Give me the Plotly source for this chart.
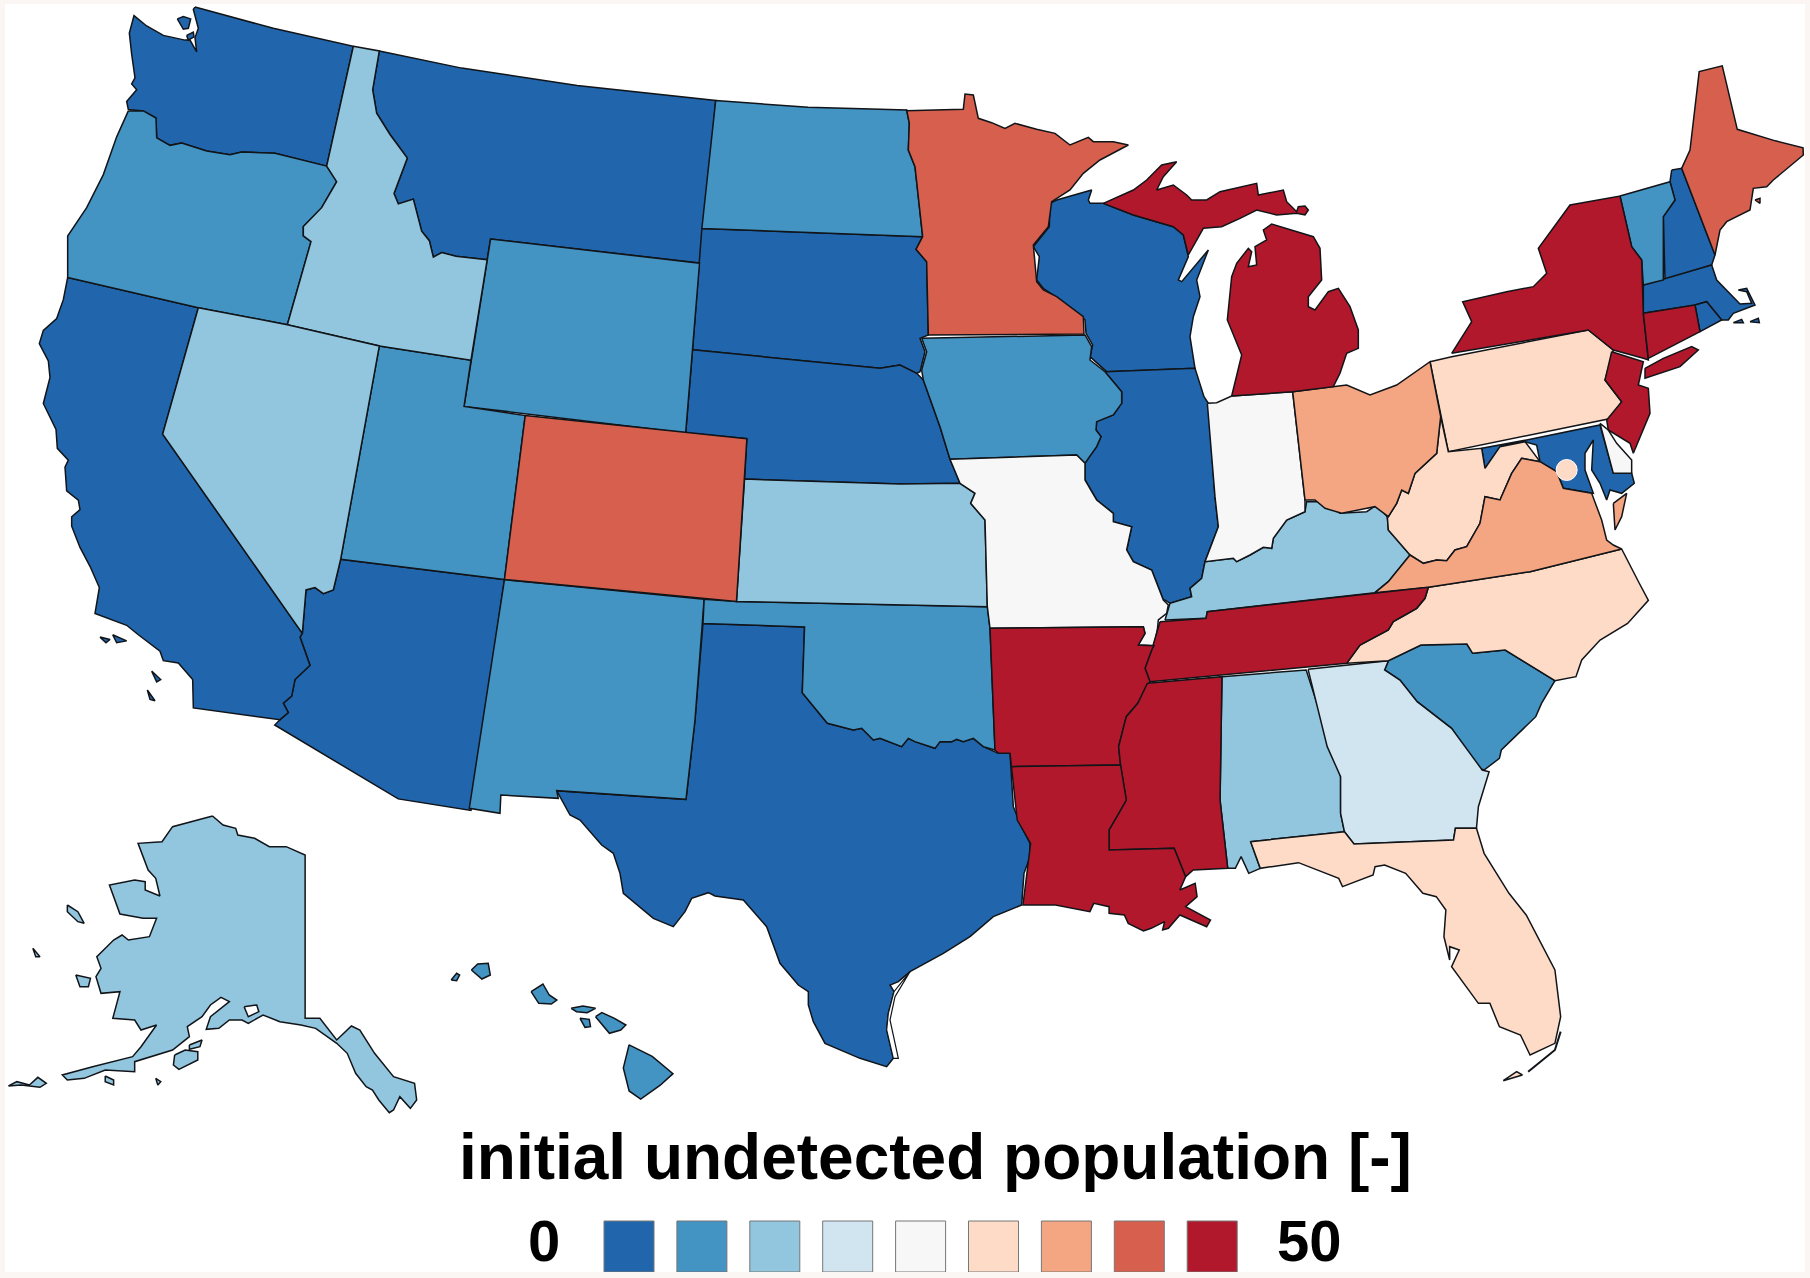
import plotly.graph_objects as go

# ---- values -----------------------------------------------------------------
LEGEND_TITLE = "initial undetected population [-]"
LEGEND_MIN, LEGEND_MAX = "0", "50"
BIN_COLOURS = ["#2166ac", "#4393c3", "#92c5de", "#d1e5f0", "#f7f7f7",
               "#fddbc7", "#f4a582", "#d6604d", "#b2182b"]
BINS = {
    0: ["WA", "MT", "SD", "NE", "TX", "AZ", "CA", "WI", "IL", "MD", "NH", "MA", "RI"],
    1: ["OR", "WY", "ND", "IA", "UT", "NM", "OK", "SC", "VT", "HI"],
    2: ["ID", "NV", "KS", "KY", "AL", "AK"],
    3: ["GA"],
    4: ["IN", "MO", "DE"],
    5: ["PA", "WV", "NC", "FL", "DC"],
    6: ["OH", "VA"],
    7: ["MN", "CO", "ME"],
    8: ["NY", "CT", "NJ", "MI", "TN", "AR", "MS", "LA"],
}

# ---- state outlines, traced (no base-map topology can be loaded offline) -----
def tr(x0, y0, sx, sy):
    return lambda *pts: [(x0 + a / sx, y0 + b / sy) for a, b in pts]

O = tr(0, 0, 1568 / 1810, 1107 / 1278)
W = tr(20, 0, 3, 2.119)
A = tr(0, 790, 2.376, 3)
G = tr(1000, 120, 3, 3)
S = tr(1000, 640, 2.613, 3)
T = tr(540, 720, 3, 3)
N = tr(1400, 150, 3, 3)
K = tr(1130, 500, 3, 3)
M = tr(880, 90, 3, 3)
I = tr(900, 330, 3, 3)

OUTLINES = {
 "WA": [W((525,15),(760,60),(1000,98),(920,352),(765,325),(665,322),(630,328),(560,320),(485,303),(450,308),(410,292),(408,250),(370,235),(325,232),(320,215),(350,190),(335,178),(345,165),(335,115),(328,70),(342,33),(380,55),(430,75),(495,85),(510,85),(530,110),(525,80),(535,60),(520,20)),
        W((472,40),(490,35),(512,40),(505,60),(490,62)), W((500,75),(520,68),(522,78),(505,85))],
 "OR": [W((325,235),(370,235),(408,250),(410,292),(450,308),(485,303),(560,320),(630,328),(665,322),(765,325),(920,352),(950,385),(905,440),(850,480),(850,500),(873,512),(802,688),(535,652),(143,588),(143,500),(200,440),(250,370),(290,290))],
 "ID": [W((1000,98),(1078,108),(1058,190),(1070,240),(1110,285),(1162,335),(1122,410),(1135,432),(1180,422),(1205,490),(1228,510),(1240,545),(1265,535))+O((395,222),(422,225),(408,312))+W((1078,733),(802,688),(873,512),(850,500),(850,480),(905,440),(950,385),(920,352))],
 "MT": [W((1078,108))+O((400,59),(500,74),(620,87),(608,228),(425,207),(422,225),(395,222))+W((1265,535),(1240,545),(1228,510),(1205,490),(1180,422),(1135,432),(1122,410),(1162,335),(1110,285),(1070,240),(1058,190))],
 "WY": [O((425,207),(606,228),(594,375),(402,352))],
 "ND": [O((620,87),(700,93))+M((80,60),(88,100),(85,180),(105,230),(128,440))+O((608,198))],
 "SD": [O((608,198))+M((128,440),(108,478),(140,515),(145,735),(120,745),(135,785),(120,845),(110,850),(60,825),(0,835))+O((600,303))],
 "NE": [O((600,303))+M((0,835),(60,825),(110,850))+I((70,150),(120,290),(150,388),(180,460),(0,462))+O((645,415),(647,380),(594,375))],
 "NV": [W((535,652),(802,688),(1078,733),(962,1185),(940,1250),(910,1258),(885,1245),(858,1250),(847,1342),(428,920))],
 "CA": [W((143,588),(535,652),(428,920),(847,1342),(840,1350),(870,1410),(825,1440),(815,1475),(790,1490),(805,1510),(780,1525),(520,1500),(518,1440),(475,1405),(430,1400),(420,1380),(355,1345),(320,1325),(225,1300),(238,1245),(210,1200),(180,1160),(155,1115),(155,1095),(180,1080),(175,1060),(140,1040),(135,990),(145,975),(112,950),(108,910),(70,855),(90,800),(85,765),(58,728),(70,700),(110,675),(130,635)),
        W((240,1350),(270,1355),(258,1362)), W((278,1345),(320,1358),(290,1362)), W((395,1422),(422,1440),(410,1445)), W((382,1462),(405,1485),(390,1482))],
 "UT": [W((1078,733))+O((408,312),(402,352),(455,360),(437,502))+W((962,1185))],
 "CO": [O((455,360),(647,380),(638,521),(437,502))],
 "AZ": [W((962,1185))+O((437,502),(408,702),(345,692),(238,628))+W((780,1525),(805,1510),(790,1490),(815,1475),(825,1440),(870,1410),(840,1350),(847,1342),(858,1250),(885,1245),(910,1258),(940,1250))],
 "NM": [O((437,502),(610,519))+T((465,0),(438,238),(50,212),(55,235))+A((1190,15),(1188,70),(1115,55))],
 "KS": [O((645,415))+I((0,462),(180,460),(225,490),(212,520),(255,570),(262,830))+O((638,521))],
 "OK": [O((610,519),(638,521))+I((262,830),(270,895))+T((1365,90),(1330,80),(1300,55),(1270,65),(1250,58),(1235,65),(1200,65),(1185,85),(1125,65),(1105,55),(1085,80),(1020,55),(1000,60),(965,25),(940,30),(862,10))+O((695,600),(697,543),(609,540))],
 "TX": [T((862,10),(940,30),(965,25),(1000,60),(1020,55),(1085,80),(1105,55),(1125,65),(1185,85),(1200,65),(1235,65),(1250,58),(1270,65),(1300,55),(1330,80),(1375,100),(1410,100),(1420,260),(1440,310),(1470,370),(1470,410),(1452,460),(1445,555),(1360,590),(1290,650),(1210,700),(1110,755),(1075,785),(1050,795),(1062,815),(1045,880),(1040,930),(1060,1015),(1040,1040),(960,1015),(855,970),(820,905),(805,855),(805,815),(775,795),(720,730),(680,620),(610,540),(525,528),(505,518),(455,535),(435,575),(400,620),(340,595),(250,520),(240,460),(220,400),(185,375),(120,300),(90,285),(50,212),(438,238),(465,0))+O((609,540),(697,543),(695,600))],
 "MN": [O((785,96))+M((250,58),(255,12),(280,15),(295,85),(335,98),(375,115),(405,100),(470,118),(525,130),(570,165),(625,142),(640,155),(700,155),(745,165),(660,210),(610,250),(570,300),(515,335),(505,410),(460,465),(470,575),(490,600),(530,620),(610,680),(612,732),(145,735),(140,515),(108,478),(128,440),(105,230),(85,180),(88,100),(80,60))],
 "IA": [I((65,25),(555,15),(575,50),(570,90),(615,125),(665,185),(665,220),(640,255),(590,275),(588,300),(603,320),(590,350),(565,385),(555,400),(530,375),(150,388),(120,290),(70,150),(65,120),(80,65))],
 "MO": [I((150,388),(530,375),(555,400),(555,450),(590,510),(640,550),(640,575),(695,590),(680,660),(700,695),(755,720),(790,810),(805,825),(800,850),(775,870),(772,900))+K((72,437),(25,435),(45,400),(40,380))+I((270,895),(262,830),(255,570),(212,520),(225,490),(180,460))],
 "AR": [I((270,895))+K((40,380),(45,400),(25,435),(72,437),(65,450),(45,505),(60,545))+S((360,190),(330,230),(310,320),(315,375),(30,380))+T((1410,100),(1375,100),(1365,90))],
 "LA": [S((30,380),(315,375),(330,480),(285,570),(285,630),(455,625),(485,710),(470,750),(510,730),(515,770),(485,800),(550,840),(540,860),(470,825),(440,865),(425,870),(430,845),(395,865),(375,873),(335,850),(325,825),(285,820),(285,800),(245,790),(235,815),(145,795),(60,795),(70,700),(80,610),(45,540))],
 "MS": [S((385,130),(580,110),(575,480),(595,685),(505,690),(485,710),(455,625),(285,630),(285,570),(330,480),(315,375),(310,320),(330,230),(360,190))],
 "AL": [S((580,110),(800,90),(890,410),(890,520),(900,575),(655,605),(680,685),(650,700),(630,650),(615,685),(595,685),(575,480))],
 "GA": [S((805,88),(1015,62),(1005,90),(1045,120),(1090,185),(1180,265),(1260,390),(1278,395),(1250,500),(1245,565),(1190,565),(1185,600),(925,612),(900,575),(890,520),(890,410),(855,320))],
 "SC": [S((1015,62),(1100,15),(1220,12),(1235,40),(1320,30),(1450,122),(1415,190),(1400,230),(1310,330),(1305,355),(1265,390),(1250,385),(1180,265),(1090,185),(1045,120),(1005,90))],
 "NC": [K((650,490),(690,435),(775,390),(790,365),(825,345),(860,325),(885,295),(895,262),(1200,215))+N((665,1197))+O((1420,505),(1428,520),(1410,540))+S((1568,0),(1520,60),(1505,110),(1450,122),(1320,30),(1235,40),(1220,12),(1100,15),(1015,62))],
 "FL": [S((655,605),(900,575),(925,612),(1185,600),(1190,565),(1245,565),(1265,640),(1330,760),(1375,825),(1450,990),(1465,1130),(1450,1210),(1385,1245),(1360,1185),(1305,1160),(1280,1090),(1250,1090),(1180,980),(1200,930),(1175,920),(1175,960),(1160,890),(1165,810),(1140,770),(1105,760),(1060,700),(1005,675),(980,680),(975,705),(895,740),(885,715),(780,668),(680,685)),
        S((1315,1322),(1350,1295),(1365,1305))],
 "TN": [K((90,365),(228,355),(232,335),(735,278),(895,262),(885,295),(860,325),(825,345),(790,365),(775,390),(690,435),(650,490),(60,545),(45,505),(65,450))],
 "KY": [K((105,360),(120,310),(185,290),(180,265),(215,235),(225,185),(310,175),(320,185),(360,165),(400,142),(425,145),(430,115),(470,60),(525,35),(530,5),(575,5),(630,40),(710,35),(740,15),(772,50),(775,90),(840,165),(775,245),(735,278),(232,335),(228,355))],
 "IL": [I((615,125),(885,115))+G((612,830),(625,850),(645,1130),(655,1220))+K((225,185),(215,235),(180,265),(185,290),(120,310),(105,300))+I((790,810),(755,720),(700,695),(680,660),(695,590),(640,575),(640,550),(590,510),(555,450),(555,400),(565,385),(590,350),(603,320),(588,300),(590,275),(640,255),(665,220),(665,185))],
 "IN": [G((622,850),(650,848),(695,828),(878,815),(915,1140))+K((525,35),(470,60),(430,115),(425,145),(400,142),(360,165),(320,185),(310,175),(225,185))+G((655,1220),(645,1130))],
 "OH": [G((878,815),(1000,800),(1040,795),(1110,825),(1190,795),(1290,725),(1322,890),(1310,1000),(1245,1060),(1225,1120),(1205,1110),(1190,1150),(1165,1190),(1125,1160),(1025,1180),(975,1165),(945,1140),(915,1140))],
 "WI": [G((150,250),(170,240),(275,210),(265,240),(270,250),(310,250),(400,285),(520,320),(550,345),(565,410),(535,480),(545,485),(625,390),(590,480),(600,530),(580,590),(570,650),(585,745),(320,755),(270,710),(278,675),(258,640),(255,600),(175,535),(130,505),(110,480),(118,410),(100,380),(148,320))],
 "MI": [G((310,250),(400,210),(440,180),(485,135),(530,125),(490,170),(470,210),(520,195),(560,225),(575,240),(620,240),(660,215),(770,190),(775,225),(850,210),(860,245),(890,275),(895,260),(915,258),(925,270),(915,285),(890,280),(830,285),(770,270),(720,295),(665,320),(610,325),(590,360),(565,405),(550,345),(520,320),(400,285)),
        G((695,828),(725,705),(682,600),(695,470),(710,430),(745,385),(755,395),(745,440),(770,435),(765,380),(800,360),(790,330),(815,312),(940,350),(960,385),(965,480),(925,530),(925,560),(945,570),(985,515),(1015,505),(1050,560),(1075,630),(1075,685),(1040,700),(1020,760),(1000,800),(878,815))],
 "WV": [N((122,800),(145,905),(245,895),(255,955),(300,890),(375,875),(420,935),(365,925),(335,970),(300,1050),(255,1040),(240,1120),(200,1190))+K((975,150),(950,182),(920,180),(880,190),(840,165),(775,90),(772,50))+G((1165,1190),(1190,1150),(1205,1110),(1225,1120),(1245,1060),(1310,1000))],
 "VA": [K((735,278),(775,245),(840,165),(880,190),(920,180),(950,182),(975,150))+N((200,1190),(240,1120),(255,1040),(300,1050),(335,970),(365,925),(420,935),(470,965),(490,1015),(575,1030),(605,1110),(620,1170),(640,1185),(665,1197))+K((1200,215),(895,262)),
        N((640,1060),(680,1030),(665,1100),(645,1140))],
 "PA": [N((90,635),(155,620),(565,540),(640,600),(615,690),(665,755),(635,805),(145,905))],
 "NY": [N((155,610),(215,515),(188,455),(320,425),(400,410),(440,370),(415,295),(510,165),(660,138),(695,290),(725,330),(730,490),(745,630),(730,625),(640,600),(565,540)),
        N((735,655),(790,625),(875,590),(895,600),(840,650),(735,685))],
 "VT": [N((660,138),(810,95),(825,150),(790,200),(790,390),(730,405),(725,330),(695,290))],
 "NH": [N((815,60),(845,55),(945,315),(935,345),(795,390),(790,200),(825,150),(810,95))],
 "ME": [N((845,55),(870,0))+O((1472,62),(1492,57),(1505,112),(1538,122),(1562,128))+N((1210,15),(1120,90),(1100,110),(1060,115),(1050,180),(980,215),(960,240),(945,315)),
        N((1065,150),(1080,145),(1080,160))],
 "MA": [N((730,405),(935,345),(950,390),(1000,440),(1020,462),(1055,460),(1040,425),(1015,420),(1040,415),(1065,465),(1000,490),(985,510),(965,510),(920,455),(885,465),(730,490)),
        N((1050,515),(1075,505),(1078,518)), N((1000,518),(1025,508),(1030,518))],
 "RI": [N((885,465),(920,455),(965,510),(900,545))],
 "CT": [N((730,490),(885,465),(900,545),(745,625))],
 "NJ": [N((635,605),(730,635),(715,705),(745,715),(750,790),(700,910),(690,880),(625,840),(620,810),(665,755),(615,690))],
 "DE": [N((600,820),(625,840),(650,880),(695,930),(695,970),(640,970))],
 "MD": [N((245,895),(380,870),(600,825),(640,970),(695,970),(703,1000),(665,1030),(630,1020),(620,1050),(600,1000),(575,960),(580,870),(555,910),(555,960),(580,1030),(490,1015),(470,965),(420,935),(410,885),(375,875),(300,890),(255,955))],
 "AK": [A((505,78),(530,105),(560,115),(565,135),(605,145),(640,170),(680,170),(725,195),(725,685),(760,685),(800,750),(835,708),(855,720),(890,790),(935,860),(985,880),(990,930),(975,955),(950,920),(935,960),(925,968),(900,930),(885,900),(870,890),(845,850),(825,790),(800,760),(750,715),(715,705),(665,695),(625,675),(590,700),(575,690),(545,690),(520,715),(490,718),(500,680),(545,635),(525,622),(500,645),(480,680),(445,710),(450,740),(410,780),(320,815),(320,845),(250,840),(200,865),(160,870),(148,855),(220,830),(315,800),(335,770),(372,705),(335,720),(320,690),(268,685),(285,605),(240,610),(228,560),(240,535),(230,500),(270,450),(290,435),(305,450),(355,440),(372,385),(340,385),(285,372),(260,285),(320,270),(345,275),(345,300),(380,318),(370,265),(352,240),(328,160),(385,155),(410,110),(455,95)),
        A((160,345),(185,365),(200,400),(185,395),(160,365)), A((180,555),(215,565),(210,590),(190,590)), A((78,475),(95,500),(85,500)),
        A((415,795),(440,780),(470,785),(470,810),(425,838),(412,825)), A((450,765),(480,750),(475,770),(450,778)),
        A((20,888),(40,875),(70,885),(90,862),(110,880),(95,892),(50,885)), A((250,858),(270,870),(270,885),(250,875)), A((370,865),(382,875),(375,885))],
 "HI": [A((1120,540),(1135,522),(1160,520),(1165,555),(1145,567)), A((1072,570),(1085,550),(1092,555),(1085,572)),
        A((1262,605),(1290,582),(1305,615),(1323,630),(1310,642),(1280,640)), A((1357,655),(1385,648),(1415,655),(1395,668),(1370,665)),
        A((1378,685),(1400,688),(1403,710),(1390,712)), A((1415,680),(1430,668),(1460,685),(1487,705),(1475,720),(1448,730)),
        O((545,905),(565,915),(583,930),(572,940),(555,952),(545,945),(540,925))],
}
WATER = [A((580,650),(610,645),(615,665),(590,680))]
OPEN_LINES = [S((1465,1175),(1450,1230),(1380,1295))]
BARRIER = [T((1110,755),(1065,830),(1050,900),(1075,1015),(1060,1015),(1040,930),(1045,880),(1062,815))]
DC_POINT = N((500,960))[0]

INK = "#111418"
fig = go.Figure()

def add_poly(parts, fill, width=1.5):
    xs, ys = [], []
    for p in parts:
        xs += [q[0] for q in p] + [p[0][0], None]
        ys += [q[1] for q in p] + [p[0][1], None]
    fig.add_trace(go.Scatter(x=xs, y=ys, mode="lines", fill="toself", fillcolor=fill,
                             line=dict(color=INK, width=width), hoverinfo="skip", showlegend=False))

for b, states in BINS.items():
    for st in states:
        if st in OUTLINES:
            add_poly(OUTLINES[st], BIN_COLOURS[b])
add_poly(WATER, "#ffffff")
add_poly(BARRIER, "#ffffff", 1.2)
for ln in OPEN_LINES:
    fig.add_trace(go.Scatter(x=[p[0] for p in ln], y=[p[1] for p in ln], mode="lines",
                             line=dict(color=INK, width=2), hoverinfo="skip", showlegend=False))
fig.add_trace(go.Scatter(x=[DC_POINT[0]], y=[DC_POINT[1]], mode="markers",
                         marker=dict(size=21, color=BIN_COLOURS[5], line=dict(color="#ffffff", width=1)),
                         hoverinfo="skip", showlegend=False))

shapes = []
for i, c in enumerate(BIN_COLOURS):
    x0 = 604 + i * 72.9
    shapes.append(dict(type="rect", xref="x", yref="y", x0=x0, x1=x0 + 50, y0=1221, y1=1272,
                       fillcolor=c, line=dict(color="#777777", width=1)))

FONT = "Liberation Sans Narrow, Liberation Sans, sans-serif"
anns = [
    dict(x=935, y=1157, text=f"<b>{LEGEND_TITLE}</b>", showarrow=False, xanchor="center", yanchor="middle",
         font=dict(family=FONT, size=64, color="#000")),
    dict(x=544, y=1240, text=f"<b>{LEGEND_MIN}</b>", showarrow=False, xanchor="center", yanchor="middle",
         font=dict(family=FONT, size=58, color="#000")),
    dict(x=1309, y=1240, text=f"<b>{LEGEND_MAX}</b>", showarrow=False, xanchor="center", yanchor="middle",
         font=dict(family=FONT, size=58, color="#000")),
]
fig.update_layout(
    width=1810, height=1278, margin=dict(l=5, r=5, t=4, b=6),
    paper_bgcolor="#fbf5f3", plot_bgcolor="#ffffff",
    xaxis=dict(range=[5, 1805], visible=False, fixedrange=True),
    yaxis=dict(range=[1272, 4], visible=False, fixedrange=True),
    shapes=shapes, annotations=anns, showlegend=False,
)
fig.write_html("out.html", config={"displayModeBar": False},
               post_script="document.body.style.margin='0';document.body.style.overflow='hidden';")
